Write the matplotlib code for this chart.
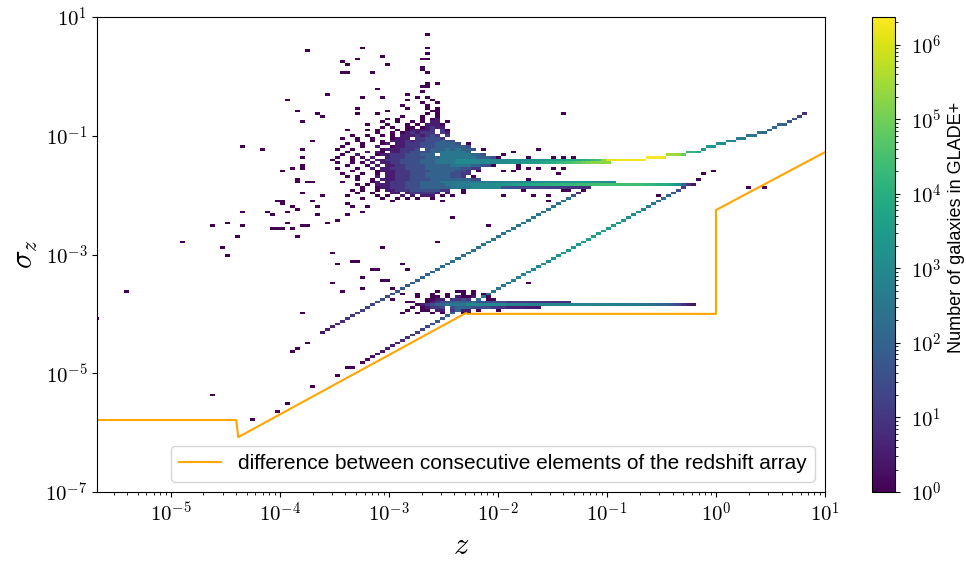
import numpy as np
import matplotlib
matplotlib.use("Agg")
import matplotlib.pyplot as plt
from matplotlib.colors import LogNorm
from matplotlib.ticker import FuncFormatter, NullLocator, NullFormatter, LogLocator

plt.rcParams['mathtext.fontset'] = 'cm'
plt.rcParams['font.family'] = ['Liberation Sans', 'DejaVu Sans']

# histogram binning (log10 units)
bin_dex = 0.046
log_z_min = -5.70
log_sigma_min = -6.999

# orange line: spacing of the redshift array
grid_z = [2.1e-6, 4.0e-5, 4.17e-5, 5.1e-3, 5.3e-3, 1.0, 1.0, 10.0]
grid_dz = [1.63e-6, 1.63e-6, 8.4e-7, 1.035e-4, 1.0e-4, 1.0e-4, 5.6e-3, 5.3e-2]

# ridges: log10 z, log10 sigma_z, log10 count
top_row_lz = [-2.433, -1.699, -1.240, -1.056, -1.001, -0.643, -0.597, -0.487, -0.432,
              -0.321, -0.266, -0.165, -0.120, -0.018, 0.230, 0.413, 0.597, 0.735, 0.854]
top_row_ls = [-1.41, -1.41, -1.41, -1.41, -1.41, -1.41, -1.364, -1.364, -1.318,
              -1.318, -1.272, -1.272, -1.226, -1.18, -1.041, -0.949, -0.811, -0.705, -0.617]
top_row_lc = [2.5, 3.2, 3.9, 4.5, 6.1, 6.3, 6.38, 6.35, 5.5,
              5.3, 4.3, 4.0, 3.5, 3.4, 2.6, 2.3, 2.0, 1.5, 0.5]

top2_lz = [-2.433, -1.974, -1.607, -1.332, -1.147, -0.963]
top2_ls = [-1.456] * 6
top2_lc = [2.5, 3.0, 3.7, 4.5, 5.2, 5.3]

mid_lz = [-2.433, -1.974, -1.607, -1.056, -0.689, -0.413, -0.321, -0.257, -0.202]
mid_ls = [-1.824] * 9
mid_lc = [2.5, 3.3, 4.0, 4.5, 4.4, 3.8, 3.0, 1.0, 0.3]

mid_up_lz = [-2.433, -1.790, -1.240, -0.918]
mid_up_ls = [-1.778] * 4
mid_up_lc = [2.3, 2.9, 3.5, 3.0]

mid_lo_lz = [-2.433, -1.790, -1.147]
mid_lo_ls = [-1.870] * 3
mid_lo_lc = [2.0, 1.5, 0.8]

low_lz = [-2.231, -1.790, -1.423, -1.056, -0.689, -0.413, -0.275, -0.202]
low_ls = [-3.848] * 8
low_lc = [2.6, 2.8, 2.9, 2.85, 2.5, 1.9, 0.7, 0.3]

low_up_lz = [-2.231, -1.332]
low_up_ls = [-3.802, -3.802]
low_up_lc = [1.3, 0.8]

low_lo_lz = [-2.231, -1.607]
low_lo_ls = [-3.894, -3.894]
low_lo_lc = [1.0, 0.4]

diag1_lz = [-3.65, -3.35, -3.0, -2.7, -2.4, -2.0, -1.6, -1.35, -1.25]
diag1_ls = [-4.33, -4.03, -3.68, -3.38, -3.08, -2.68, -2.28, -2.03, -1.93]
diag1_lc = [0.3, 1.0, 1.6, 2.0, 2.3, 2.5, 2.5, 2.4, 0.5]

diag2_lz = [-3.26, -3.0, -2.7, -2.52, -2.3, -2.0, -1.52, -1.10, -0.70, -0.46, -0.30, -0.26]
diag2_ls = [-4.83, -4.57, -4.27, -4.09, -3.87, -3.57, -3.09, -2.67, -2.27, -2.03, -1.87, -1.83]
diag2_lc = [0.0, 0.5, 1.2, 1.8, 2.2, 2.5, 3.2, 3.7, 3.0, 2.2, 1.3, 0.3]

# dense core, one char per bin, level = log10(count) * 2
core_lz0 = -3.515
core_ls0 = -0.26
core_rows = [
    "..................0................",
    "...............0...................",
    "......0...0......0.0...............",
    "...............0....0..............",
    "..................0..0.............",
    "..............0....0...............",
    ".....0.........0...0.0.............",
    "...........0........00.............",
    ".....0...0.........0.0.............",
    "..............0...0..0.............",
    "...........0.0....0.01.............",
    "..........0..0..0.0.11.0...........",
    ".......0...0...0.0.1110............",
    "..........0.0..00.01211............",
    "...0...0.0...0.011112.20...........",
    ".........0..0.0121222.21...........",
    "....0..0..0.0.11121232.2...........",
    "..0..0..0...0111.223332............",
    ".....0..0.0.1112122333433..........",
    "...0..0...01.1122233344443.0.......",
    "..0...0..1..0112223334444443.......",
    ".0..0.....01112223.3444545443.0....",
    "...0...1.10.1122333344555554.......",
    "..0..1...011222333444.555555443...0",
    ".0..0.0.1..1222333344455555554443..",
    "0...0..1.1122233334445555666666666",
    ".0..0.0.1.1122333344455556666666666",
    "...0...0.1.1122333344444555544330..",
    ".0...0..1.11222333344444443322.....",
    "....0....0111222333344444332.0.....",
    "..0...0..0.11222333444443322......",
    "...0.0...1.1122233344444332.0.....",
    ".....0..0.11122233334444444433.....",
    "..0.....01.12223334444555555555544.",
    ".....0.0.1112223334444455555666666",
    "......0..0112223334444445555666666",
    "....0.0..0.1122233333322..0.......",
    ".....0..0...11.1222221.1..0.......",
    "...0.....0.0..1.1.111.0.0.........",
    "......0...0..0.0.0..0.............",
    "............0.........0...........",
]

low_grid_lz0 = -2.963
low_grid_ls0 = -3.572
low_grid_rows = [
    "0......................",
    ".0.......0...00.0......",
    "..0..0..0..0..0.0.0....",
    ".....0..00.0.1001.00...",
    "0......0011.2232.1.00..",
    "...00..0123344443333333",
    ".....0123445555666666666",
    "....0.01223.344433332222",
    "...0..00.11.2211.0...0.0",
    "..0..0..0.0...00.......",
]

# isolated single galaxies (log10 z, log10 sigma_z)
lone_lz = [-2.63, -2.63, -2.63, -3.23, -3.75, -3.05, -2.67, -2.63, -3.28, -3.43,
           -3.37, -3.00, -2.67, -2.67, -3.43, -3.37, -3.14, -2.63, -2.63, -2.57,
           -2.63, -2.67, -3.10, -3.56, -3.94, -3.85, -3.66, -3.61, -3.79,
           -4.32, -4.17, -3.79, -3.72, -3.79, -3.79, -3.87, -3.99, -3.78, -3.84,
           -3.75, -3.85, -3.70, -3.79, -3.63, -4.03, -3.97, -3.70, -3.99, -3.66,
           -3.89, -4.32, -4.12, -3.94, -3.85, -4.08, -3.66, -4.64, -4.50, -4.36,
           -4.07, -4.02, -3.99, -3.94, -3.89, -3.79, -3.75, -4.41, -3.85, -4.88,
           -4.55, -4.50, -5.39, -5.67, -3.79,
           -3.37, -3.35, -3.19, -3.38, -3.23, -3.56, -3.47, -2.39, -2.11, -2.57, -3.06,
           -3.52, -3.47, -3.33, -3.28, -3.14, -3.10, -2.87, -2.81, -3.23, -3.05,
           -3.00, -3.52, -3.43, -3.23,
           -3.63, -3.75, -3.85, -3.89,
           -3.33, -3.38, -3.47, -3.70, -3.94, -4.03, -4.27, -4.64,
           -1.41, -2.02, -1.88, -1.64, -1.70, -1.50, -1.41, -1.30, -1.97, -1.82,
           -1.72, -1.61, -1.50, -1.40, -1.45, -1.73, -1.88, -1.82, -1.08, -1.03,
           -0.29, -0.14, -0.09, -0.04, 0.28, 0.43, -1.54, -1.52, -1.68, -1.93,
           -1.75, -1.20, -1.41, -1.36, -0.41, -0.37, -0.52, -1.73, -1.75]
lone_ls = [0.70, 0.46, 0.39, 0.46, 0.41, 0.36, 0.31, 0.28, 0.28, 0.23,
           0.18, 0.18, 0.16, 0.12, 0.07, 0.04, 0.07, 0.04, -0.11, -0.11,
           -0.16, -0.16, -0.20, -0.30, -0.40, -0.58, -0.63, -0.68, -0.77,
           -1.19, -1.24, -1.24, -1.11, -1.38, -1.48, -1.53, -1.61, -1.54, -1.75,
           -1.76, -1.80, -1.80, -1.95, -2.00, -2.08, -2.08, -2.08, -2.13, -2.18,
           -2.20, -2.27, -2.27, -2.27, -2.23, -2.32, -2.32, -2.50, -2.47, -2.50,
           -2.55, -2.55, -2.55, -2.47, -2.55, -2.50, -2.50, -2.69, -2.69, -2.79,
           -2.89, -3.03, -3.60, -4.07, -3.97,
           -2.13, -2.18, -2.18, -2.32, -2.27, -2.47, -2.42, -2.37, -2.50, -2.79, -2.89,
           -2.98, -3.16, -3.13, -3.13, -3.26, -3.26, -3.16, -3.26, -3.38, -3.45,
           -3.45, -3.50, -3.60, -3.55,
           -4.32, -4.49, -4.58, -4.63,
           -4.89, -4.91, -5.03, -5.25, -5.52, -5.62, -5.80, -5.38,
           -0.63, -1.375, -1.29, -1.24, -1.38, -1.38, -1.38, -1.38, -1.61, -1.56,
           -1.56, -1.56, -1.56, -1.56, -1.66, -1.71, -1.61, -1.51, -1.76, -1.76,
           -1.86, -1.71, -1.66, -1.61, -1.85, -1.85, -2.03, -2.08, -2.03, -2.00,
           -1.90, -1.90, -1.90, -1.91, -1.95, -1.95, -2.03, -3.46, -3.90]

x_edges = log_z_min + bin_dex * np.arange(147)
y_edges = log_sigma_min + bin_dex * np.arange(175)
x_mid = 0.5 * (x_edges[1:] + x_edges[:-1])
counts = np.zeros((len(y_edges) - 1, len(x_edges) - 1))


def put(lz, ls, c):
    j = np.searchsorted(x_edges, lz) - 1
    i = np.searchsorted(y_edges, ls) - 1
    if 0 <= i < counts.shape[0] and 0 <= j < counts.shape[1]:
        counts[i, j] = max(counts[i, j], c)


def add_ridge(lz, ls, lc):
    sel = (x_mid >= lz[0]) & (x_mid <= lz[-1])
    for x in x_mid[sel]:
        put(x, np.interp(x, lz, ls), 10 ** np.interp(x, lz, lc))


def add_grid(rows, lz0, ls0, width):
    for i, row in enumerate(rows):
        for j, ch in enumerate(row.ljust(width, '.')[:width]):
            if ch != '.':
                put(lz0 + j * bin_dex, ls0 - i * bin_dex, 10 ** (int(ch) / 2))


add_grid(core_rows, core_lz0, core_ls0, 35)
add_grid(low_grid_rows, low_grid_lz0, low_grid_ls0, 23)
for lz, ls in zip(lone_lz, lone_ls):
    put(lz, ls, 1)
add_ridge(top_row_lz, top_row_ls, top_row_lc)
add_ridge(top2_lz, top2_ls, top2_lc)
add_ridge(mid_lz, mid_ls, mid_lc)
add_ridge(mid_up_lz, mid_up_ls, mid_up_lc)
add_ridge(mid_lo_lz, mid_lo_ls, mid_lo_lc)
add_ridge(low_lz, low_ls, low_lc)
add_ridge(low_up_lz, low_up_ls, low_up_lc)
add_ridge(low_lo_lz, low_lo_ls, low_lo_lc)
add_ridge(diag1_lz, diag1_ls, diag1_lc)
add_ridge(diag2_lz, diag2_ls, diag2_lc)

masked = np.ma.masked_where(counts <= 0, counts)


def pow_label(v, pos):
    return r'$10^{%d}$' % int(round(np.log10(v)))


fig = plt.figure(figsize=(9.66, 5.61), dpi=100)
ax = fig.add_axes([97 / 966, 1 - 492 / 561, 728 / 966, 475 / 561])
cax = fig.add_axes([872 / 966, 1 - 492 / 561, 23 / 966, 475 / 561])

mesh = ax.pcolormesh(10 ** x_edges, 10 ** y_edges, masked, cmap='viridis',
                     norm=LogNorm(vmin=1, vmax=counts.max()), rasterized=True)
ax.plot(grid_z, grid_dz, color='orange', lw=1.5,
        label='difference between consecutive elements of the redshift array')

ax.set_xscale('log')
ax.set_yscale('log')
ax.set_xlim(10 ** -5.675, 10)
ax.set_ylim(1e-7, 10)
ax.set_xticks([1e-5, 1e-4, 1e-3, 1e-2, 1e-1, 1e0, 1e1])
ax.set_yticks([1e1, 1e-1, 1e-3, 1e-5, 1e-7])
ax.yaxis.set_minor_locator(NullLocator())
ax.xaxis.set_minor_locator(LogLocator(base=10, subs=np.arange(2, 10), numticks=20))
ax.xaxis.set_minor_formatter(NullFormatter())
ax.xaxis.set_major_formatter(FuncFormatter(pow_label))
ax.yaxis.set_major_formatter(FuncFormatter(pow_label))
ax.tick_params(labelsize=15)
ax.set_xlabel(r'$z$', fontsize=22)
ax.set_ylabel(r'$\sigma_z$', fontsize=22)
ax.legend(loc='lower right', fontsize=15)

cbar = fig.colorbar(mesh, cax=cax)
cbar.ax.yaxis.set_major_formatter(FuncFormatter(pow_label))
cbar.ax.yaxis.set_minor_formatter(NullFormatter())
cbar.ax.tick_params(labelsize=15, pad=8)
cbar.set_label('Number of galaxies in GLADE+', fontsize=13)
cbar.ax.yaxis.set_label_coords(3.3, 0.556)

fig.savefig('out.png', dpi=100)
